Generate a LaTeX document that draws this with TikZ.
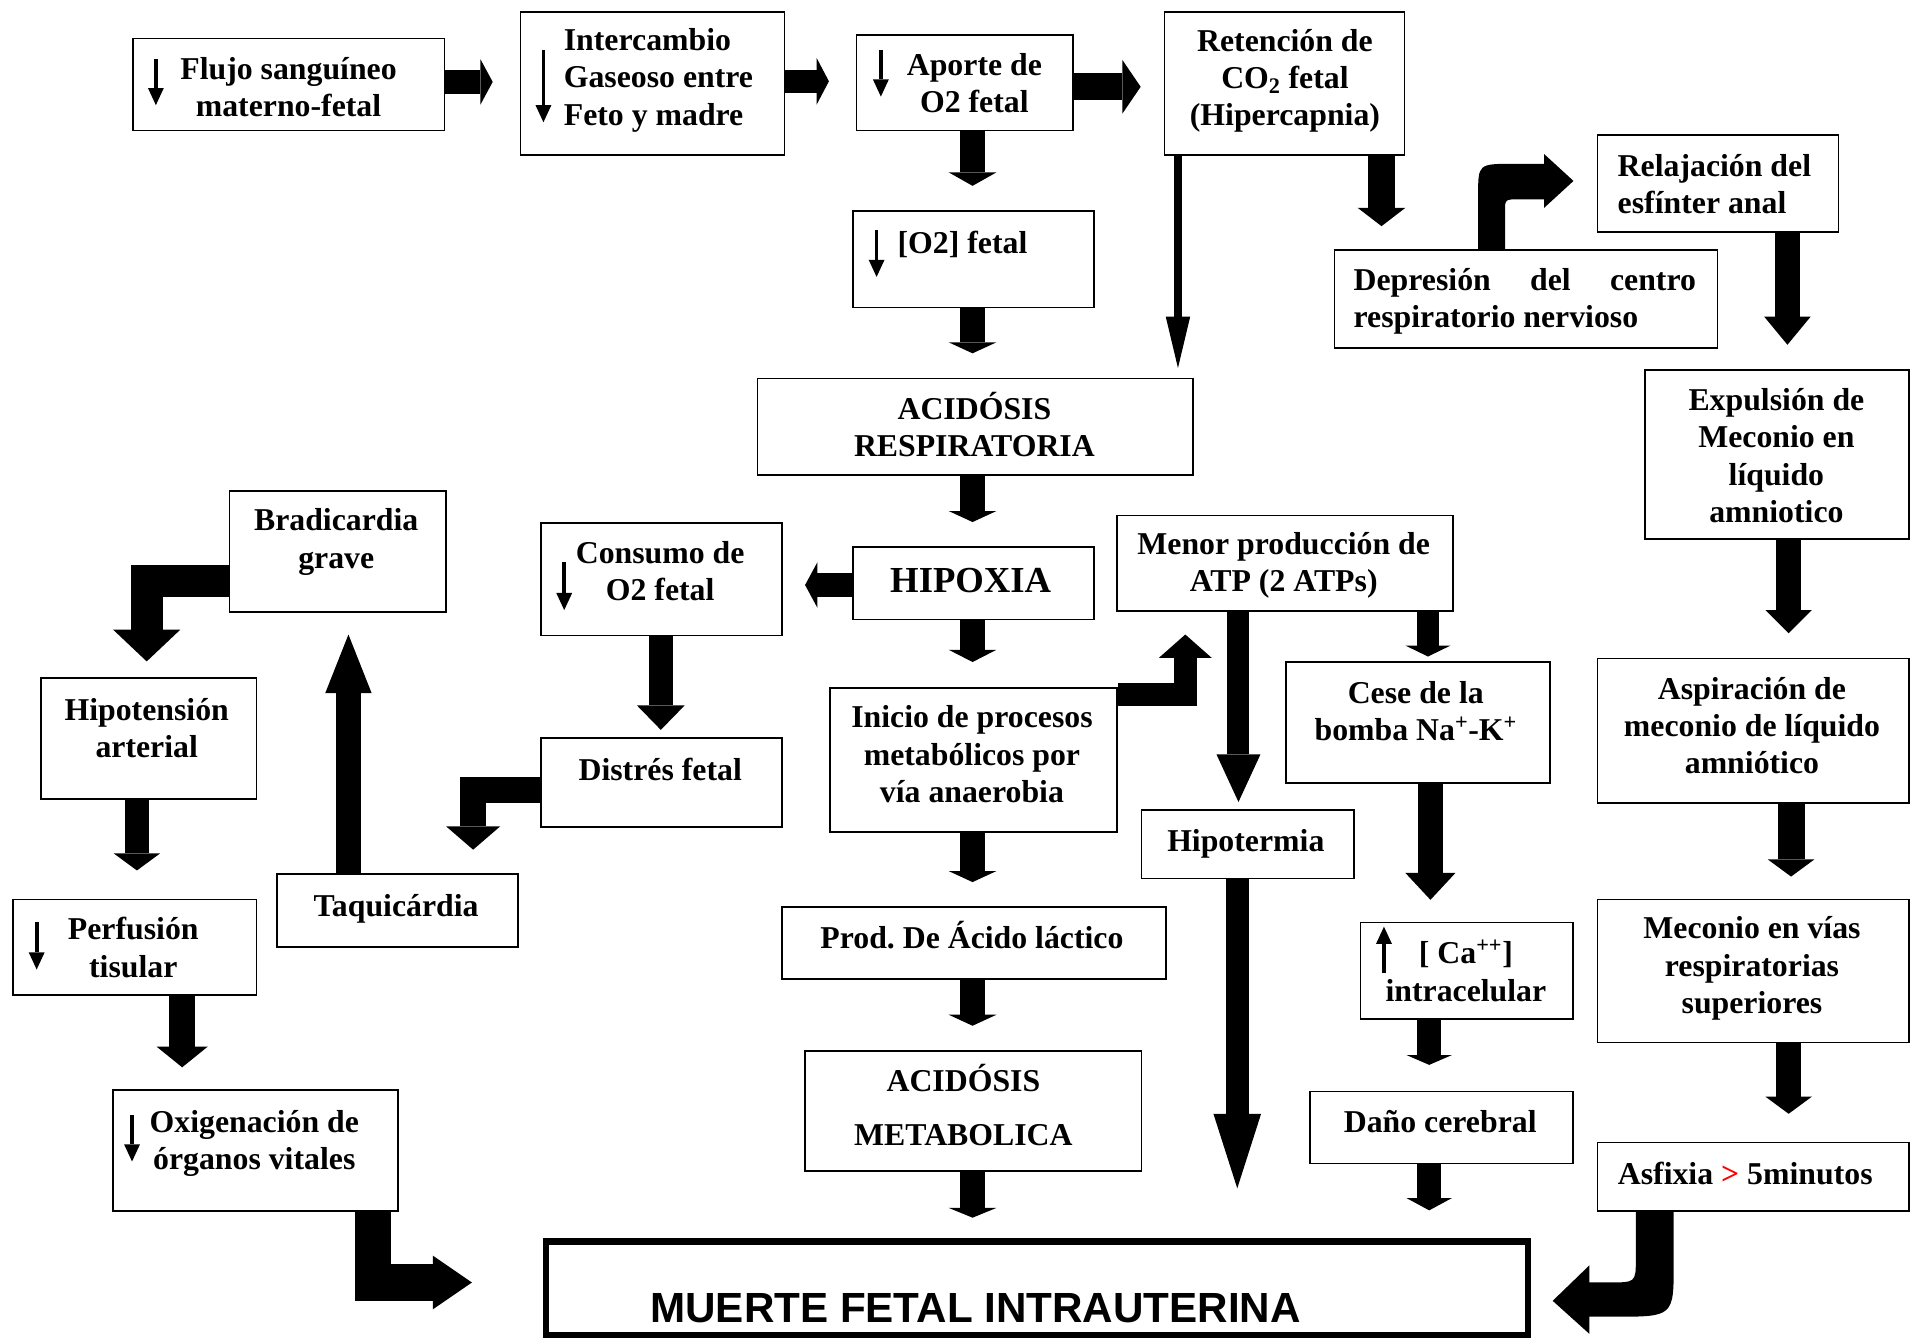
\documentclass[tikz,border=0pt]{standalone}
\usepackage{fontspec}
\setmainfont{Liberation Serif}
\newfontfamily\arialfont{Liberation Sans}
\usetikzlibrary{arrows.meta}
\frenchspacing
\newcommand\mybox[5]{%
  \pgfmathsetmacro\myBW{#4-#2}\pgfmathsetmacro\myBH{#5-#3}%
  \node[box, minimum width=\myBW pt, minimum height=\myBH pt] (#1) at (#2,#3) {};}
\begin{document}
\begin{tikzpicture}[x=1pt,y=-1pt,
  box/.style={draw, line width=1.3pt, inner sep=0pt, anchor=north west},
  txt/.style={font=\fontsize{26}{30.5}\selectfont\bfseries, align=center, inner sep=0pt,
    execute at begin node=\strut, execute at end node=\strut},
  ltxt/.style={txt, align=left, anchor=west},
  sarr/.style={line width=3pt, -{Triangle[length=14pt,width=13pt,line width=0pt]}},
  barr/.style n args={3}{line width=#1pt, line join=miter,
    -{Triangle[length=#3pt,width=#2pt,line width=0pt]}},
]
\fill[white] (0,0) rectangle (1568,1094);
\useasboundingbox (0,0) rectangle (1568,1094);

% ---------- boxes ----------
\mybox{flujo}{108}{31}{363}{106}
\mybox{inter}{425}{9}{641}{126}
\mybox{aporte}{700}{28}{877}{106}
\mybox{reten}{952}{9}{1148}{126}
\mybox{otwo}{697}{172}{894}{251}
\mybox{relaj}{1306}{110}{1503}{189}
\mybox{depres}{1091}{204}{1404}{284}
\mybox{acresp}{619}{309}{975}{388}
\mybox{expul}{1345}{302}{1561}{440}
\mybox{brad}{187}{401}{364}{500}
\mybox{consumo}{442}{427}{639}{519}
\mybox{hipox}{697}{447}{894}{506}
\mybox{menor}{913}{421}{1188}{499}
\mybox{hipot}{33}{554}{209}{653}
\mybox{distres}{442}{603}{639}{676}
\mybox{inicio}{678}{562}{913}{680}
\mybox{cese}{1051}{541}{1267}{640}
\mybox{aspir}{1306}{538}{1561}{656}
\mybox{hipoter}{933}{662}{1107}{718}
\mybox{taqui}{226}{714}{423}{774}
\mybox{perf}{10}{735}{209}{813}
\mybox{prod}{639}{741}{953}{800}
\mybox{ca}{1112}{754}{1286}{833}
\mybox{mecon}{1306}{735}{1561}{852}
\mybox{acmet}{658}{859}{933}{957}
\mybox{oxig}{92}{891}{325}{990}
\mybox{dano}{1071}{892}{1286}{951}
\mybox{asfix}{1306}{934}{1561}{990}
\node[draw, line width=5pt, inner sep=0pt, anchor=north west,
  minimum width=803pt, minimum height=76.5pt] (muerte) at (444,1013) {};

% ---------- texts ----------
\node[txt] (flujo-t) at (236,75.5) {Flujo sanguíneo\\materno-fetal};
\node[ltxt] (inter-t) at (461,67.5) {Intercambio\\Gaseoso entre\\Feto y madre};
\node[txt] (aporte-t) at (797,72.5) {Aporte de\\O2 fetal};
\node[txt] (reten-t) at (1051,68) {Retención de\\CO\textsubscript{2} fetal\\(Hipercapnia)};
\node[ltxt] (otwo-t) at (734,201) {[O2] fetal};
\node[ltxt] (relaj-t) at (1323,155) {Relajación del\\esfínter anal};
\node[ltxt] (depres-t) at (1107,248.5) {\makebox[280pt][s]{Depresión del centro}\\respiratorio nervioso};
\node[txt] (acresp-t) at (797,351.5) {ACIDÓSIS\\RESPIRATORIA};
\node[txt] (expul-t) at (1453,377) {Expulsión de\\Meconio en\\líquido\\amniotico};
\node[txt] (brad-t) at (275,445) {Bradicardia\\grave};
\node[txt] (consumo-t) at (540,471.5) {Consumo de\\O2 fetal};
\node[inner sep=0pt, anchor=base, font=\fontsize{30}{34}\selectfont\bfseries] (hipox-t) at (794,485) {HIPOXIA};
\node[txt] (menor-t) at (1050,464.5) {Menor producción de\\ATP (2 ATPs)};
\node[txt] (hipot-t) at (120,600) {Hipotensión\\arterial};
\node[txt] (distres-t) at (540,632.5) {Distrés fetal};
\node[txt] (inicio-t) at (795,621.5) {Inicio de procesos\\metabólicos por\\vía anaerobia};
\node[txt] (cese-t) at (1158,586) {Cese de la\\bomba Na\textsuperscript{+}-K\textsuperscript{+}};
\node[txt] (aspir-t) at (1433,598) {Aspiración de\\meconio de líquido\\amniótico};
\node[txt] (hipoter-t) at (1019,690.5) {Hipotermia};
\node[txt] (taqui-t) at (324,743.5) {Taquicárdia};
\node[txt] (perf-t) at (109,779.5) {Perfusión\\tisular};
\node[txt] (prod-t) at (795,769.5) {Prod. De Ácido láctico};
\node[txt] (ca-t) at (1199,798.5) {[ Ca\textsuperscript{++}]\\intracelular};
\node[txt] (mecon-t) at (1433,794) {Meconio en vías\\respiratorias\\superiores};
\node[txt] (acmet-t) at (788,908) {ACIDÓSIS\\[13.5pt]METABOLICA};
\node[txt] (oxig-t) at (208,937) {Oxigenación de\\órganos vitales};
\node[txt] (dano-t) at (1178,920.5) {Daño cerebral};
\node[txt] (asfix-t) at (1427.5,962.5) {Asfixia {\color{red}>} 5minutos};
\node[inner sep=0pt, anchor=base, font=\fontsize{34.5}{40}\selectfont\arialfont\bfseries] (muerte-t) at (798,1082) {MUERTE FETAL INTRAUTERINA};

% ---------- small arrows inside boxes ----------
\draw[sarr] (127.5,48) -- (127.5,86);
\draw[sarr] (444.5,41) -- (444.5,100);
\draw[sarr] (720.5,41) -- (720.5,79);
\draw[sarr] (717,188) -- (717,226.5);
\draw[sarr] (461.5,460) -- (461.5,499);
\draw[sarr] (30,754) -- (30,793);
\draw[sarr] (108,912) -- (108,950);
\draw[sarr] (1132,796) -- (1132,758);

% ---------- block arrows ----------
\draw[barr={20}{37}{10}] (flujo.east |- 0,67) -- (403,67);
\draw[barr={19}{38}{10}] (inter.east |- 0,66.5) -- (678,66.5);
\draw[barr={22}{44}{15}] (aporte.east |- 0,71) -- (933,71);
\draw[barr={21}{39}{11}] (aporte.south -| 795.5,0) -- (795.5,152);
\draw[barr={21}{39}{9}] (otwo.south -| 795.5,0) -- (795.5,289);
\draw[barr={7}{20}{42}] (reten.south -| 963.5,0) -- (963.5,301);
\draw[barr={22}{39}{15}] (reten.south -| 1130,0) -- (1130,185);
\fill (depres.north -| 1209,0) -- (1209,160) .. controls (1209,134) .. (1238,134) -- (1263,134)
  -- (1263,126) -- (1287,148) -- (1263,170) -- (1263,163) -- (1243,163)
  .. controls (1231,163) .. (1231,173) -- (depres.north -| 1231,0) -- cycle;
\draw[barr={21}{38}{23}] (relaj.south -| 1462,0) -- (1462,282);
\draw[barr={21}{39}{9}] (acresp.south -| 795.5,0) -- (795.5,427);
\draw[barr={19}{37}{10}] (hipox.west |- 0,478.5) -- (658.5,478.5);
\draw[barr={21}{39}{10}] (hipox.south -| 795.5,0) -- (795.5,541.5);
\draw[barr={20}{39}{20}] (consumo.south -| 540.5,0) -- (540.5,597);
\draw[barr={21}{44}{19}] (distres.west |- 0,646) -- (387,646) -- (387,695);
\draw[barr={26}{55}{26}] (brad.west |- 0,475.5) -- (120,475.5) -- (120,541);
\draw[barr={20}{38}{48}] (taqui.north -| 285,0) -- (285,519);
\draw[barr={19}{38}{14}] (hipot.south -| 112,0) -- (112,712);
\draw[barr={21}{42}{17}] (perf.south -| 149,0) -- (149,873);
\draw[barr={30}{44}{32}] (oxig.south -| 305,0) -- (305,1049) -- (386,1049);
\draw[barr={19}{43}{19}] (inicio.east |- 0,568) -- (969.5,568) -- (969.5,519);
\draw[barr={18}{36}{39}] (menor.south -| 1013,0) -- (1013,656);
\draw[barr={18}{37}{9}] (menor.south -| 1168,0) -- (1168,537);
\draw[barr={20}{41}{22}] (cese.south -| 1170,0) -- (1170,736);
\draw[barr={21}{38}{19}] (expul.south -| 1463,0) -- (1463,518);
\draw[barr={22}{38}{14}] (aspir.south -| 1465,0) -- (1465,717);
\draw[barr={20}{38}{14}] (mecon.south -| 1463,0) -- (1463,911);
\fill (asfix.south -| 1338,0) -- (asfix.south -| 1369,0) -- (1369,1033) .. controls (1369,1077) .. (1320,1077)
  -- (1300,1077) -- (1300,1091) -- (1270,1064) -- (1300,1035) -- (1300,1049) -- (1315,1049)
  .. controls (1338,1049) .. (1338,1030) -- cycle;
\draw[barr={21}{39}{9}] (inicio.south -| 795.5,0) -- (795.5,721.5);
\draw[barr={21}{39}{9}] (prod.south -| 795.5,0) -- (795.5,839);
\draw[barr={21}{39}{8}] (acmet.south -| 795.5,0) -- (795.5,996);
\draw[barr={19}{39}{61}] (hipoter.south -| 1012,0) -- (1012,972);
\draw[barr={20}{37}{8}] (ca.south -| 1169,0) -- (1169,871);
\draw[barr={20}{37}{10}] (dano.south -| 1169,0) -- (1169,990);
\end{tikzpicture}
\end{document}
